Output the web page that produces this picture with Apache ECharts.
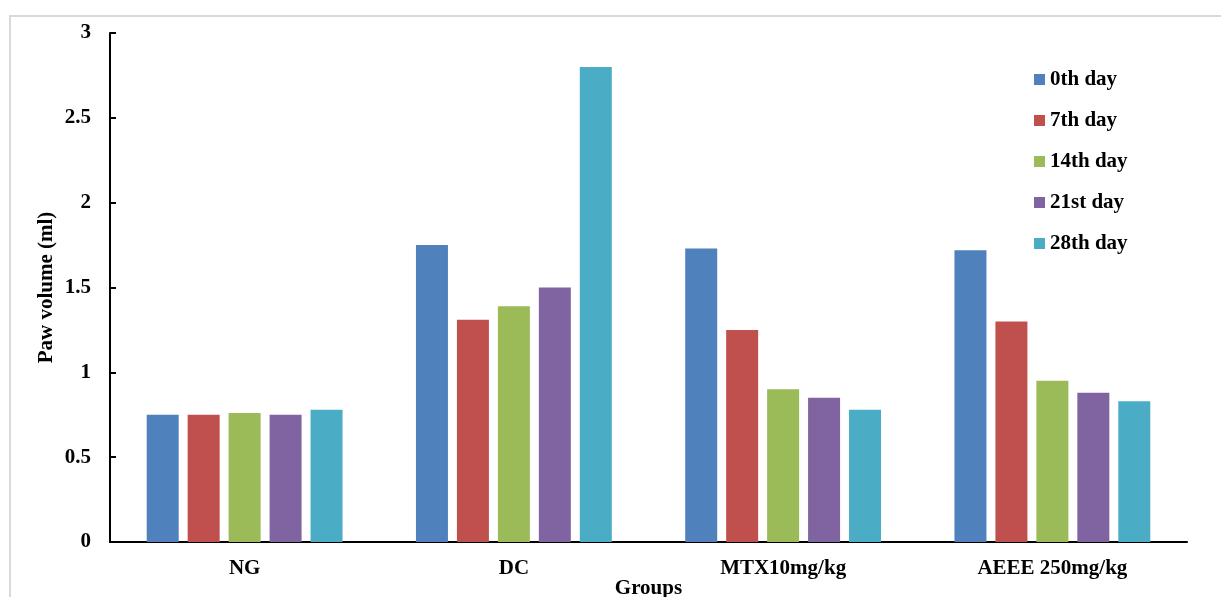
<!DOCTYPE html>
<html>
<head>
<meta charset="utf-8">
<script src="https://cdn.jsdelivr.net/npm/echarts@6/dist/echarts.min.js"></script>
<style>
html,body{margin:0;padding:0;background:#fff;}
#chart{width:1221px;height:597px;}
</style>
</head>
<body>
<div id="chart"></div>
<script>
var categories = ['NG', 'DC', 'MTX10mg/kg', 'AEEE 250mg/kg'];
var seriesNames = ['0th day', '7th day', '14th day', '21st day', '28th day'];
var day0  = [0.75, 1.75, 1.73, 1.72];
var day7  = [0.75, 1.31, 1.25, 1.30];
var day14 = [0.76, 1.39, 0.90, 0.95];
var day21 = [0.75, 1.50, 0.85, 0.88];
var day28 = [0.78, 2.80, 0.78, 0.83];
var colors = ['#4F81BD', '#C0504D', '#9BBB59', '#8064A2', '#4BACC6'];

var font = '"Liberation Serif", "Times New Roman", serif';
var values = [day0, day7, day14, day21, day28];
var series = seriesNames.map(function (n, i) {
  return {
    name: n, type: 'bar', data: values[i],
    barWidth: 32, barGap: '28%',
    itemStyle: { color: colors[i] }
  };
});

var chart = echarts.init(document.getElementById('chart'));
chart.setOption({
  animation: false,
  backgroundColor: '#fff',
  color: colors,
  graphic: [{
    type: 'rect', silent: true, z: -10,
    shape: { x: 10, y: 16, width: 1400, height: 800 },
    style: { fill: 'none', stroke: '#d9d9d9', lineWidth: 2 }
  }],
  grid: { left: 110, right: 34, top: 33, bottom: 55, containLabel: false, outerBoundsMode: 'none' },
  legend: {
    orient: 'vertical', left: 1034, top: 69, padding: 0,
    itemWidth: 11, itemHeight: 11, itemGap: 20,
    icon: 'rect',
    textStyle: { fontFamily: font, fontWeight: 'bold', fontSize: 21, color: '#000', lineHeight: 21 },
    data: seriesNames
  },
  xAxis: {
    type: 'category', data: categories,
    name: 'Groups', nameLocation: 'middle', nameGap: 36, nameMoveOverlap: false,
    nameTextStyle: { fontFamily: font, fontWeight: 'bold', fontSize: 21, color: '#000' },
    axisLine: { lineStyle: { color: '#000', width: 2 } },
    axisTick: { show: false },
    axisLabel: { fontFamily: font, fontWeight: 'bold', fontSize: 21, color: '#000', margin: 16 }
  },
  yAxis: {
    type: 'value', min: 0, max: 3, interval: 0.5,
    name: 'Paw volume (ml)', nameLocation: 'middle', nameGap: 53, nameMoveOverlap: false,
    nameTextStyle: { fontFamily: font, fontWeight: 'bold', fontSize: 21, color: '#000' },
    axisLine: { show: true, lineStyle: { color: '#000', width: 2 } },
    axisTick: { show: true, inside: true, length: 6, lineStyle: { color: '#000', width: 2 } },
    splitLine: { show: false },
    axisLabel: { fontFamily: font, fontWeight: 'bold', fontSize: 21, color: '#000', margin: 19 }
  },
  series: series
});
</script>
</body>
</html>
